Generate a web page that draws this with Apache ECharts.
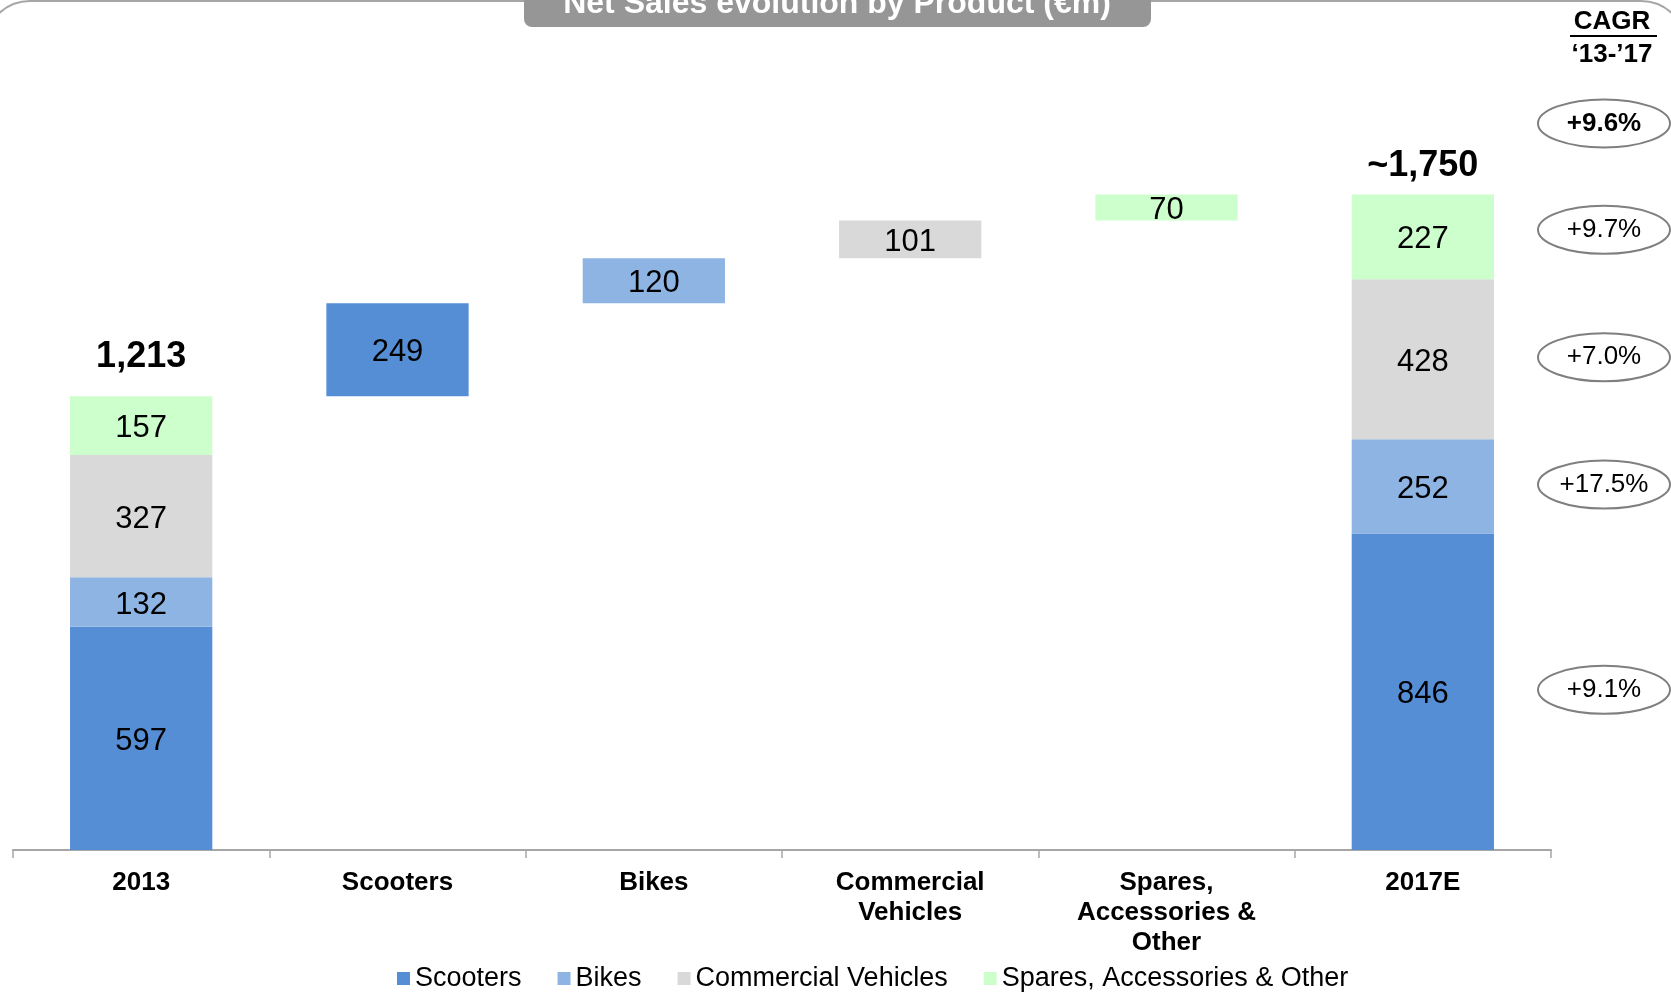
<!DOCTYPE html>
<html>
<head>
<meta charset="utf-8">
<script src="https://cdn.jsdelivr.net/npm/echarts@6/dist/echarts.min.js"></script>
<style>
  html, body { margin: 0; padding: 0; background: #fff; }
  #chart { width: 1671px; height: 994px; }
</style>
</head>
<body>
<div id="chart"></div>
<script>
const categories = ["2013", "Scooters", "Bikes", "Commercial\nVehicles", "Spares,\nAccessories &\nOther", "2017E"];
const seriesNames = ["Scooters", "Bikes", "Commercial Vehicles", "Spares, Accessories & Other"];
const colors = ["#558ED5", "#8EB4E3", "#D9D9D9", "#CCFFCC"];

// start / end stacks
const start2013 = [597, 132, 327, 157];
const end2017 = [846, 252, 428, 227];
// increments per product (waterfall steps)
const increments = [249, 120, 101, 70];

const totalLabels = ["1,213", "~1,750"];
const cagrTotal = "+9.6%";
const cagrBySeries = ["+9.1%", "+17.5%", "+7.0%", "+9.7%"];

const FONT = "Liberation Sans, Arial, sans-serif";

const sum = (a) => a.reduce((s, v) => s + v, 0);
const total2013 = sum(start2013);
const total2017 = sum(end2017);

// invisible base for the floating bars
const baseData = [0];
let running = total2013;
increments.forEach((inc) => { baseData.push(running); running += inc; });
baseData.push(0);

const seriesData = seriesNames.map((_, i) => {
  const row = ["-", "-", "-", "-", "-", "-"];
  row[0] = start2013[i];
  row[i + 1] = increments[i];
  row[5] = end2017[i];
  return row;
});

const chart = echarts.init(document.getElementById("chart"));

const option = {
  animation: false,
  textStyle: { fontFamily: FONT },
  grid: { left: 13, right: 120, top: 102, bottom: 144 },
  legend: {
    data: seriesNames,
    left: 392,
    top: 960,
    itemWidth: 13,
    itemHeight: 13,
    itemGap: 36,
    icon: "rect",
    textStyle: { color: "#000", fontSize: 27, fontFamily: FONT },
  },
  xAxis: {
    type: "category",
    data: categories,
    axisLine: { lineStyle: { color: "#a6a6a6", width: 2 } },
    axisTick: { show: true, length: 8, lineStyle: { color: "#a6a6a6", width: 1.5 } },
    axisLabel: {
      color: "#000",
      fontSize: 26,
      fontWeight: "bold",
      fontFamily: FONT,
      lineHeight: 30,
      margin: 18,
      interval: 0,
    },
  },
  yAxis: {
    type: "value",
    min: 0,
    max: 2000,
    show: false,
    splitLine: { show: false },
  },
  series: [
    {
      name: "base",
      type: "bar",
      stack: "wf",
      barWidth: "55.5%",
      silent: true,
      itemStyle: { color: "transparent" },
      data: baseData,
    },
    ...seriesNames.map((name, i) => ({
      name,
      type: "bar",
      stack: "wf",
      barWidth: "55.5%",
      itemStyle: { color: colors[i] },
      label: {
        show: true,
        position: "inside",
        offset: [0, 3],
        color: "#000",
        fontSize: 31,
        fontFamily: FONT,
      },
      data: seriesData[i],
    })),
    {
      name: "total",
      type: "scatter",
      symbolSize: 1,
      itemStyle: { color: "transparent", opacity: 1 },
      silent: true,
      label: {
        show: true,
        position: "top",
        color: "#000",
        fontSize: 36,
        fontWeight: "bold",
        fontFamily: FONT,
        formatter: (p) => p.dataIndex === 0 ? totalLabels[0] : totalLabels[1],
      },
      data: [
        { value: total2013, label: { distance: 21 } },
        "-", "-", "-", "-",
        { value: total2017, label: { distance: 10 } },
      ],
    },
  ],
};

chart.setOption(option);

// CAGR annotations on the right, anchored to the 2017E segments
const ellipseX = 1604;
const cum = [];
let acc = 0;
end2017.forEach((v) => { cum.push(acc + v / 2); acc += v; });
const cagrItems = cagrBySeries.map((t, i) => ({
  y: chart.convertToPixel({ yAxisIndex: 0 }, cum[i]) - (i === 3 ? 7 : 2),
  text: t,
  bold: false,
}));
cagrItems.push({ y: chart.convertToPixel({ yAxisIndex: 0 }, total2017) - 71, text: cagrTotal, bold: true });

const graphics = [
  {
    type: "rect",
    shape: { x: -15, y: 1, width: 1701, height: 1200, r: 45 },
    style: { fill: "none", stroke: "#a6a6a6", lineWidth: 2 },
    silent: true,
    z: 1,
  },
  {
    type: "rect",
    shape: { x: 524, y: -20, width: 627, height: 47, r: 8 },
    style: { fill: "#969696" },
    silent: true,
    z: 2,
  },
  {
    type: "text",
    x: 837,
    y: 4,
    style: {
      text: "Net Sales evolution by Product (€m)",
      fill: "#fff",
      font: "bold 32px " + FONT,
      textAlign: "center",
      textVerticalAlign: "middle",
    },
    z: 3,
  },
  {
    type: "text",
    x: 1612,
    y: 22,
    style: { text: "CAGR", fill: "#000", font: "bold 26px " + FONT, textAlign: "center", textVerticalAlign: "middle" },
    z: 3,
  },
  {
    type: "line",
    shape: { x1: 1570, y1: 36, x2: 1657, y2: 36 },
    style: { stroke: "#000", lineWidth: 2 },
    z: 3,
  },
  {
    type: "text",
    x: 1612,
    y: 55,
    style: { text: "\u201813-\u201917", fill: "#000", font: "bold 26px " + FONT, textAlign: "center", textVerticalAlign: "middle" },
    z: 3,
  },
];

cagrItems.forEach((c) => {
  graphics.push({
    type: "ellipse",
    shape: { cx: ellipseX, cy: c.y, rx: 66, ry: 24 },
    style: { fill: "#fff", stroke: "#7f7f7f", lineWidth: 2 },
    z: 3,
  });
  graphics.push({
    type: "text",
    x: ellipseX,
    y: c.y,
    style: {
      text: c.text,
      fill: "#000",
      font: (c.bold ? "bold " : "") + "26px " + FONT,
      textAlign: "center",
      textVerticalAlign: "middle",
    },
    z: 4,
  });
});

chart.setOption({ graphic: graphics });
</script>
</body>
</html>
